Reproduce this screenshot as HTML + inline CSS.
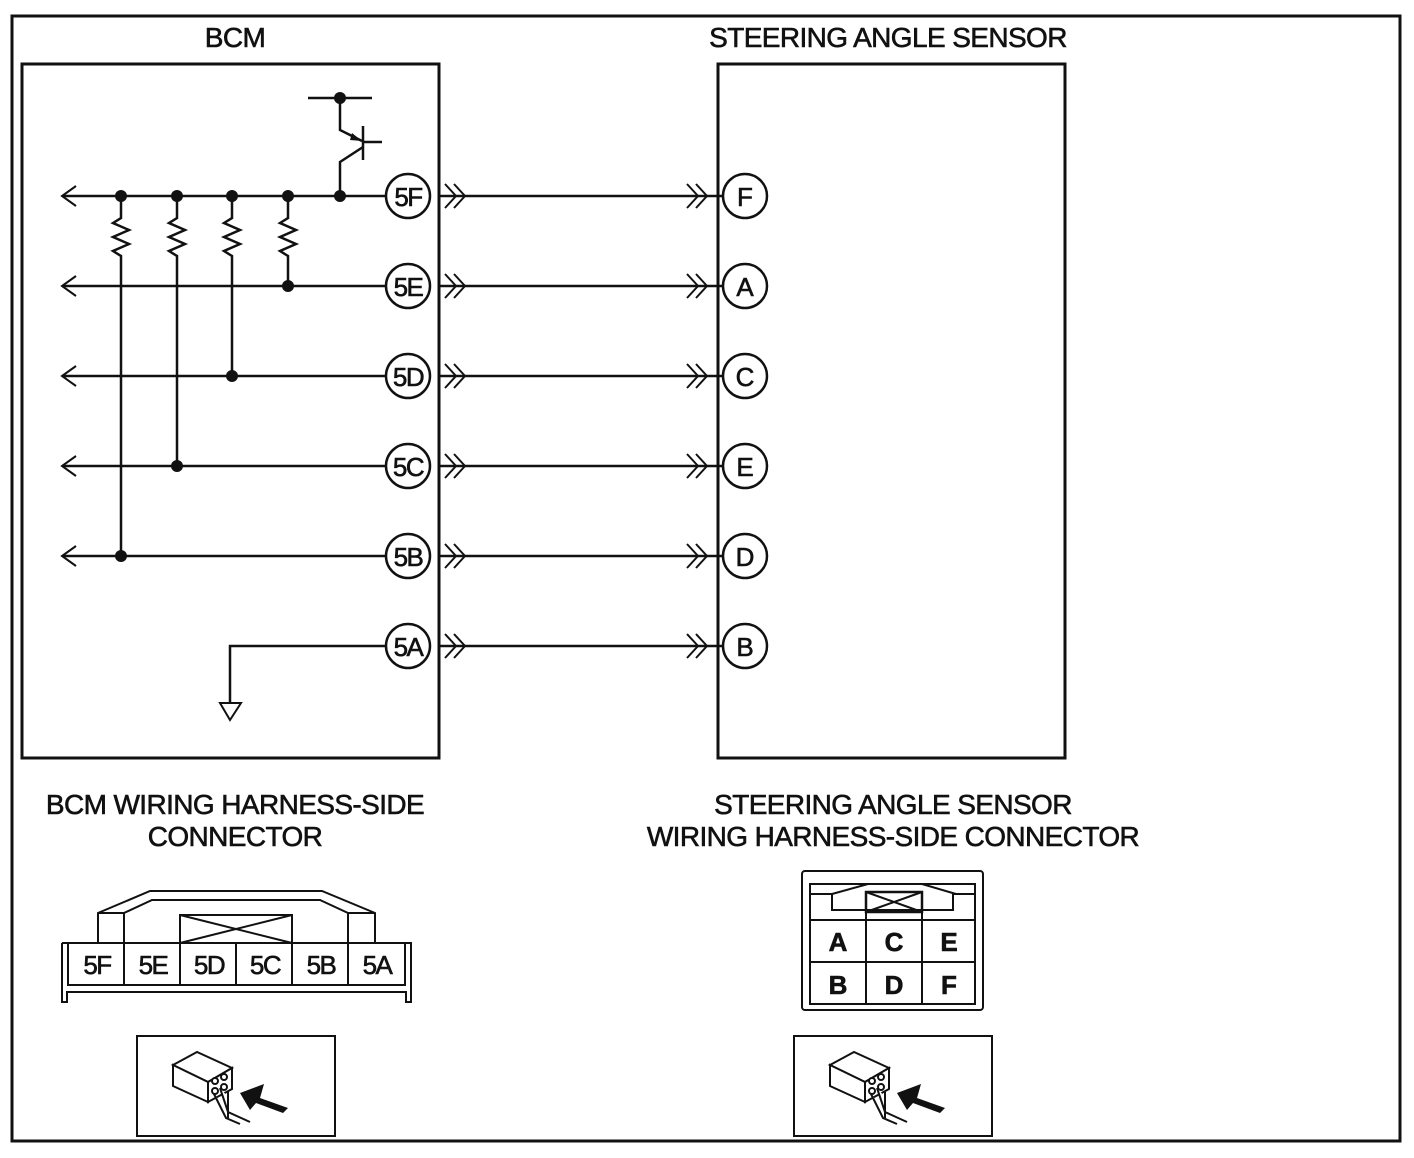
<!DOCTYPE html>
<html><head><meta charset="utf-8"><style>
html,body{margin:0;padding:0;background:#fff}
svg{display:block}
text{font-family:"Liberation Sans",Arial,sans-serif;fill:#111;stroke:#111;stroke-width:0.6}
</style></head><body>
<svg width="1414" height="1158" viewBox="0 0 1414 1158" xmlns="http://www.w3.org/2000/svg">
<g fill="none" stroke="#111" stroke-width="2.5">
<rect x="12" y="16" width="1388" height="1125" stroke-width="3"/>
<rect x="22" y="64" width="417" height="694" stroke-width="3"/>
<rect x="718" y="64" width="347" height="694" stroke-width="3"/>
</g>
<g font-size="28" text-anchor="middle" letter-spacing="-0.6">
<text x="235" y="47">BCM</text>
<text x="888" y="47">STEERING ANGLE SENSOR</text>
<text x="235" y="814">BCM WIRING HARNESS-SIDE</text>
<text x="235" y="846">CONNECTOR</text>
<text x="893" y="814">STEERING ANGLE SENSOR</text>
<text x="893" y="846">WIRING HARNESS-SIDE CONNECTOR</text>
</g>
<g stroke="#111" stroke-width="2.5" fill="none">
<line x1="62" y1="196" x2="386" y2="196"/>
<line x1="62" y1="286" x2="386" y2="286"/>
<line x1="62" y1="376" x2="386" y2="376"/>
<line x1="62" y1="466" x2="386" y2="466"/>
<line x1="62" y1="556" x2="386" y2="556"/>
<polyline points="386,646 230,646 230,703"/>
<polygon points="220,703 241,703 230,720" stroke-width="2"/>
<g stroke-width="2">
<polyline points="76,186 62,196 76,206"/>
<polyline points="76,276 62,286 76,296"/>
<polyline points="76,366 62,376 76,386"/>
<polyline points="76,456 62,466 76,476"/>
<polyline points="76,546 62,556 76,566"/>
</g>
<line x1="439" y1="196" x2="722" y2="196"/>
<line x1="439" y1="286" x2="722" y2="286"/>
<line x1="439" y1="376" x2="722" y2="376"/>
<line x1="439" y1="466" x2="722" y2="466"/>
<line x1="439" y1="556" x2="722" y2="556"/>
<line x1="439" y1="646" x2="722" y2="646"/>
<polyline points="121,196 121,218 113,223 129,230 113,237 129,244 113,251 121,256 121,556"/>
<polyline points="177,196 177,218 169,223 185,230 169,237 185,244 169,251 177,256 177,466"/>
<polyline points="232,196 232,218 224,223 240,230 224,237 240,244 224,251 232,256 232,376"/>
<polyline points="288,196 288,218 280,223 296,230 280,237 296,244 280,251 288,256 288,286"/>
<line x1="308" y1="98" x2="372" y2="98"/>
<polyline points="340,98 340,130 362,141"/>
<line x1="363" y1="126" x2="363" y2="160"/>
<line x1="363" y1="142" x2="382" y2="142"/>
<polyline points="363,147 340,162 340,196"/>
</g>
<polygon points="362,141 352,133 350,140" fill="#111"/>
<g fill="#111">
<circle cx="121" cy="196" r="6"/><circle cx="177" cy="196" r="6"/><circle cx="232" cy="196" r="6"/><circle cx="288" cy="196" r="6"/><circle cx="340" cy="196" r="6"/><circle cx="340" cy="98" r="6"/>
<circle cx="288" cy="286" r="6"/><circle cx="232" cy="376" r="6"/><circle cx="177" cy="466" r="6"/><circle cx="121" cy="556" r="6"/>
</g>
<g stroke="#111" stroke-width="2" fill="none">
<path d="M445,184l11,12l-11,12M454,184l11,12l-11,12M687,184l11,12l-11,12M696,184l11,12l-11,12"/>
<path d="M445,274l11,12l-11,12M454,274l11,12l-11,12M687,274l11,12l-11,12M696,274l11,12l-11,12"/>
<path d="M445,364l11,12l-11,12M454,364l11,12l-11,12M687,364l11,12l-11,12M696,364l11,12l-11,12"/>
<path d="M445,454l11,12l-11,12M454,454l11,12l-11,12M687,454l11,12l-11,12M696,454l11,12l-11,12"/>
<path d="M445,544l11,12l-11,12M454,544l11,12l-11,12M687,544l11,12l-11,12M696,544l11,12l-11,12"/>
<path d="M445,634l11,12l-11,12M454,634l11,12l-11,12M687,634l11,12l-11,12M696,634l11,12l-11,12"/>
</g>
<g fill="#fff" stroke="#111" stroke-width="2.5">
<circle cx="408" cy="196" r="22"/><circle cx="408" cy="286" r="22"/><circle cx="408" cy="376" r="22"/><circle cx="408" cy="466" r="22"/><circle cx="408" cy="556" r="22"/><circle cx="408" cy="646" r="22"/>
<circle cx="745" cy="196" r="22"/><circle cx="745" cy="286" r="22"/><circle cx="745" cy="376" r="22"/><circle cx="745" cy="466" r="22"/><circle cx="745" cy="556" r="22"/><circle cx="745" cy="646" r="22"/>
</g>
<g font-size="26" text-anchor="middle" letter-spacing="-1.5">
<text x="408" y="206">5F</text><text x="408" y="296">5E</text><text x="408" y="386">5D</text><text x="408" y="476">5C</text><text x="408" y="566">5B</text><text x="408" y="656">5A</text>
</g>
<g font-size="26" text-anchor="middle">
<text x="745" y="206">F</text><text x="745" y="296">A</text><text x="745" y="386">C</text><text x="745" y="476">E</text><text x="745" y="566">D</text><text x="745" y="656">B</text>
</g>
<g fill="none" stroke="#111" stroke-width="2">
<polyline points="98,943 98,913 150,891 322,891 375,913 375,943"/>
<polyline points="124,943 124,913 152,900 320,900 348,913 348,943"/>
<line x1="98" y1="913" x2="124" y2="913"/><line x1="348" y1="913" x2="375" y2="913"/>
<rect x="180" y="915" width="112" height="28"/>
<path d="M180,943L292,915M180,915L292,943"/>
<rect x="68" y="943" width="337" height="42"/>
<path d="M124,943v42M180,943v42M236,943v42M292,943v42M348,943v42"/>
<polyline points="62,943 62,1002 67,1002 67,992 406,992 406,1002 411,1002 411,943 62,943"/>
</g>
<g font-size="26" text-anchor="middle" letter-spacing="-1.5">
<text x="97" y="974">5F</text><text x="153" y="974">5E</text><text x="209" y="974">5D</text><text x="265" y="974">5C</text><text x="321" y="974">5B</text><text x="377" y="974">5A</text>
</g>
<g fill="none" stroke="#111" stroke-width="2">
<rect x="802" y="871" width="181" height="139" rx="3"/>
<polyline points="810,1005 810,884 975,884 975,1005"/>
<polyline points="810,884 810,894 832,894 832,910 953,910 953,894 975,894"/>
<polyline points="832,894 868,884 922,884 956,894"/>
<rect x="866" y="892" width="56" height="20" stroke-width="2.5"/>
<path d="M866,912L922,892M866,892L922,912"/>
<rect x="810" y="920" width="165" height="84"/>
<path d="M810,962h165M866,910v94M922,910v94"/>
</g>
<g font-size="26" text-anchor="middle" font-weight="bold">
<text x="838" y="951">A</text><text x="894" y="951">C</text><text x="949" y="951">E</text>
<text x="838" y="994">B</text><text x="894" y="994">D</text><text x="949" y="994">F</text>
</g>
<g fill="none" stroke="#111" stroke-width="2">
<rect x="137" y="1036" width="198" height="100"/>
<rect x="794" y="1036" width="198" height="100"/>
</g>
<g id="ic">
<g fill="#fff" stroke="#111" stroke-width="2">
<polygon points="173,1065 197,1052 232,1068 208,1082"/>
<polygon points="173,1065 208,1082 208,1102 173,1086"/>
<polygon points="208,1082 232,1068 232,1089 208,1102"/>
<circle cx="215" cy="1081" r="3"/><circle cx="224" cy="1077" r="3"/><circle cx="215" cy="1091" r="3"/><circle cx="224" cy="1087" r="3"/>
<path d="M214,1094 L226,1118 L240,1124 M220,1088 L228,1112 L250,1122 M228,1092 L228,1118"/>
</g>
<polygon points="240,1093 264,1084 260,1098 288,1108 283,1113 256,1103 250,1110" fill="#111"/>
</g>
<use href="#ic" x="657" y="0"/>
</svg>
</body></html>
